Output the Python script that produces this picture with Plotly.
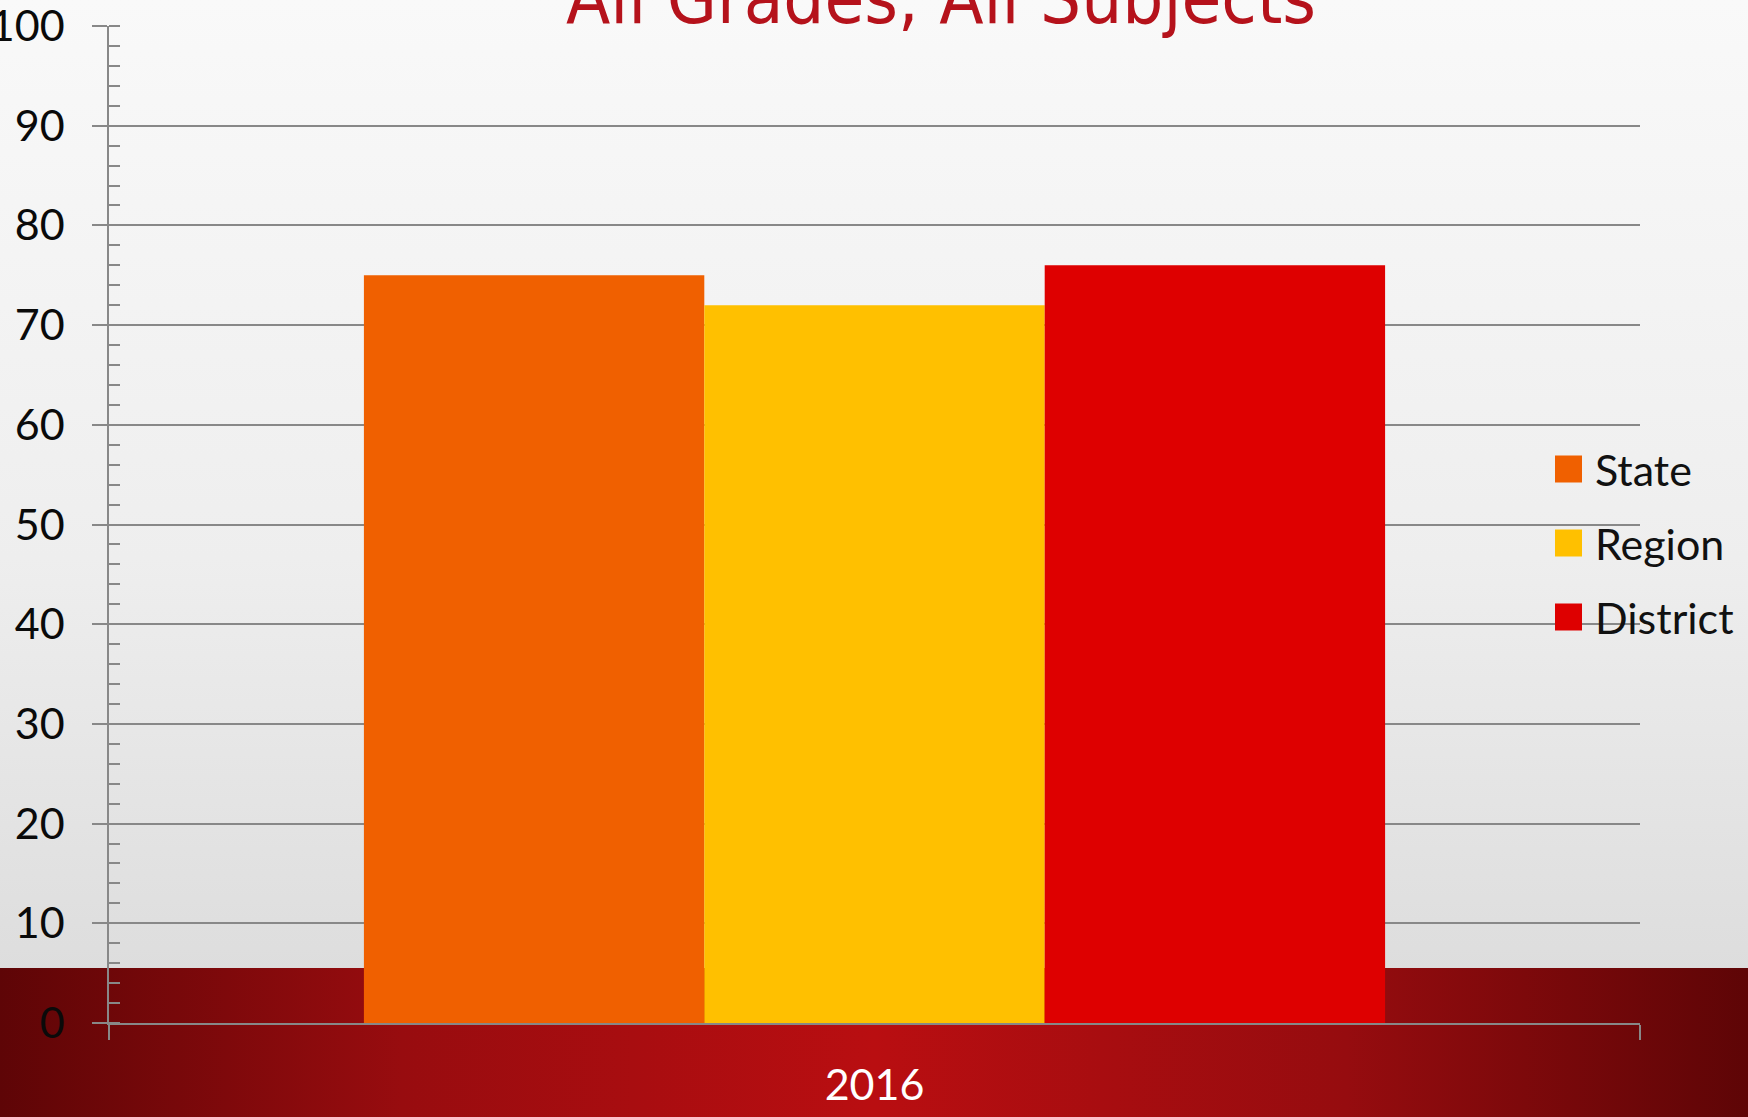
import base64
import plotly.graph_objects as go

# ---- data ----
categories = ["2016"]
series_names = ["State", "Region", "District"]
series_values = [75, 72, 76]
series_colors = ["#f06000", "#ffc000", "#de0000"]
y_ticks = [0, 10, 20, 30, 40, 50, 60, 70, 80, 90, 100]
title_text = "All Grades, All Subjects"

# ---- layout constants ----
W, H = 1748, 1117
ML, MR, MT, MB = 109, 108, 26, 94
PW, PH = W - ML - MR, H - MT - MB
GRAY = "#888888"
FONT = "Lato, 'Open Sans', sans-serif"
FS = 43


def px_x(px):
    return (px - ML) / PW


def px_y(py):
    return (H - MB - py) / PH


# background: light vertical gradient + dark red bottom band with horizontal gradient
svg = f"""<svg xmlns="http://www.w3.org/2000/svg" width="{W}" height="{H}" viewBox="0 0 {W} {H}" preserveAspectRatio="none">
<defs>
<linearGradient id="bg" x1="0" y1="0" x2="0" y2="1">
<stop offset="0" stop-color="#f9f9f9"/><stop offset="0.5" stop-color="#eeeeee"/><stop offset="1" stop-color="#d7d7d7"/>
</linearGradient>
<linearGradient id="band" x1="0" y1="0" x2="1" y2="0">
<stop offset="0" stop-color="#5e0506"/><stop offset="0.23" stop-color="#980c0f"/>
<stop offset="0.5" stop-color="#b90e11"/><stop offset="0.77" stop-color="#960c0f"/>
<stop offset="1" stop-color="#5e0506"/>
</linearGradient>
</defs>
<rect x="0" y="0" width="{W}" height="{H}" fill="url(#bg)"/>
<rect x="0" y="968" width="{W}" height="{H - 968}" fill="url(#band)"/>
</svg>"""
bg_uri = "data:image/svg+xml;base64," + base64.b64encode(svg.encode()).decode()

fig = go.Figure()
for name, val, col in zip(series_names, series_values, series_colors):
    fig.add_trace(go.Bar(
        name=name, x=categories, y=[val],
        marker=dict(color=col, line=dict(width=0)),
        showlegend=False,
    ))

# manual legend with large swatches
legend_y_px = [469, 543, 617]
shapes = []
annotations = []
for name, col, py in zip(series_names, series_colors, legend_y_px):
    shapes.append(dict(type="rect", xref="paper", yref="paper",
                       x0=px_x(1555), x1=px_x(1582), y0=px_y(py + 13.5), y1=px_y(py - 13.5),
                       fillcolor=col, line=dict(width=0), layer="above"))
    annotations.append(dict(text=name, xref="paper", yref="paper",
                            x=px_x(1593), y=px_y(py), xanchor="left", yanchor="middle",
                            showarrow=False, font=dict(family=FONT, size=FS, color="#111111")))

fig.update_layout(
    width=W, height=H,
    margin=dict(l=ML, r=MR, t=MT, b=MB, pad=0, autoexpand=False),
    paper_bgcolor="rgba(0,0,0,0)",
    plot_bgcolor="rgba(0,0,0,0)",
    barmode="group", bargap=0.333, bargroupgap=0,
    title=dict(text=title_text, xref="container", yref="container",
               x=941 / W, xanchor="center", y=1 - 23 / H, yanchor="bottom",
               font=dict(family="'Liberation Sans Narrow', 'DejaVu Sans Condensed', 'Liberation Sans', sans-serif",
                         size=72, color="#b5121b")),
    images=[dict(source=bg_uri, xref="paper", yref="paper",
                 x=-ML / PW, y=1 + MT / PH, sizex=W / PW, sizey=H / PH,
                 sizing="stretch", xanchor="left", yanchor="top", layer="below")],
    shapes=shapes,
    annotations=annotations,
    xaxis=dict(type="category", showline=True, linecolor=GRAY, linewidth=1.6, automargin=False,
               ticks="outside", tickson="boundaries", ticklen=15, tickcolor=GRAY, tickwidth=1.6,
               showgrid=False, tickfont=dict(family=FONT, size=FS, color="white"),
               ticklabelstandoff=24),
    yaxis=dict(range=[0, 100], tickvals=y_ticks, showline=True, linecolor=GRAY, linewidth=1.6,
               automargin=False, ticklabeloverflow="allow",
               ticks="outside", ticklen=15, tickcolor=GRAY, tickwidth=1.6,
               showgrid=True, gridcolor=GRAY, gridwidth=1.6, zeroline=False,
               minor=dict(ticks="inside", dtick=2, ticklen=11, tickcolor=GRAY, tickwidth=1.6, showgrid=False),
               tickfont=dict(family=FONT, size=FS, color="#0a0a0a"),
               ticklabelstandoff=19),
)

fig.write_html("out.html", config={"displayModeBar": False},
               post_script="document.body.style.margin='0';")
